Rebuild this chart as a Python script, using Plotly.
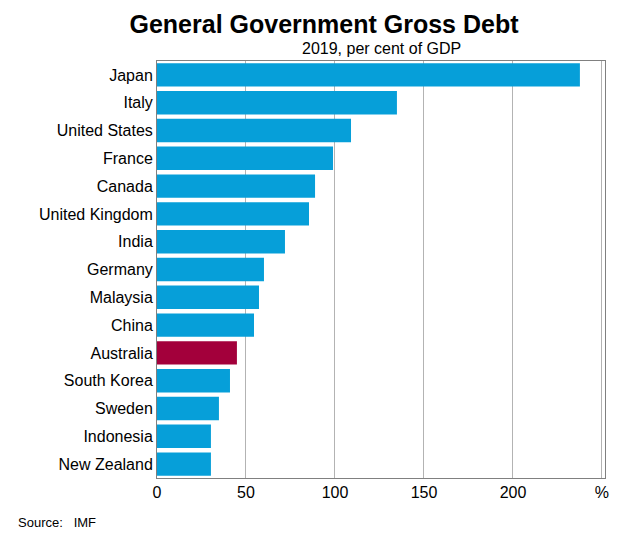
import plotly.graph_objects as go

names = ['Japan', 'Italy', 'United States', 'France', 'Canada', 'United Kingdom', 'India',
         'Germany', 'Malaysia', 'China', 'Australia', 'South Korea', 'Sweden', 'Indonesia', 'New Zealand']
debt = [237.6, 134.8, 109.0, 98.9, 88.8, 85.4, 71.9, 60.1, 57.3, 54.5, 44.9, 41.0, 34.8, 30.3, 30.3]
colours = ['#a3003b' if n == 'Australia' else '#069fd9' for n in names]

fig = go.Figure()

fig.add_trace(go.Bar(
    x=debt,
    y=names,
    orientation='h',
    marker_color=colours,
    marker_line_width=0,
    width=0.84
))
fig.update_layout(
    width=632, height=538,  # page adds 8px body margin
    margin=dict(l=149, r=35, t=53, b=68),
    plot_bgcolor='white', paper_bgcolor='white',
    font=dict(family='Arial, Liberation Sans', size=16, color='black'),
    showlegend=False,
    title=dict(text='<b>General Government Gross Debt</b>', x=0.5, xanchor='center',
               y=0.986, yanchor='top', font=dict(size=25)),
    annotations=[
        dict(text='2019, per cent of GDP', x=0.5, xref='paper', y=1.0, yref='paper',
             yanchor='bottom', yshift=2, showarrow=False, font=dict(size=16)),
        dict(text='Source:   IMF', x=-0.315, xref='paper', y=-0.085, yref='paper', yanchor='top',
             xanchor='left', showarrow=False, font=dict(size=13)),
    ],
    xaxis=dict(range=[0, 251.7], tickvals=[0, 50, 100, 150, 200, 250],
               ticktext=['0', '50', '100', '150', '200', '%'], automargin=False,
               showgrid=True, gridcolor='#b3b3b3', zeroline=False,
               showline=True, linecolor='#808080', mirror=True, ticks='', ticklen=0),
    yaxis=dict(autorange='reversed', showline=True, linecolor='#808080', mirror=True,
               ticks='', automargin=False),
)
fig.write_html("out.html")
